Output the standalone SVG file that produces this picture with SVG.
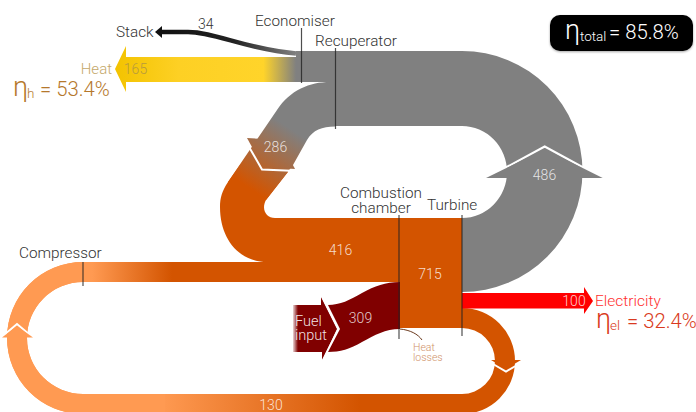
<svg xmlns="http://www.w3.org/2000/svg" width="696" height="412" viewBox="0 0 696 412">
<style>
text{font-family:"Roboto","Liberation Sans",sans-serif;font-weight:300}
.l{font-size:15.300px;fill:#333}
.v{font-size:14px;fill:#fff;fill-opacity:.8;text-anchor:middle}
.w{fill:none;stroke:#fff;stroke-width:2}
.t{stroke:#222;stroke-opacity:.8;stroke-width:1.2;fill:none}
.e{font-size:20.300px}
.b{font-size:27px}
.s{font-size:13.500px}
</style>
<defs>
<linearGradient id="gHeat" gradientUnits="userSpaceOnUse" x1="115" y1="0" x2="296" y2="0"><stop offset="0" stop-color="#f3c300"/><stop offset=".35" stop-color="#fdd024"/><stop offset=".82" stop-color="#ffd42a"/><stop offset="1" stop-color="#808080"/></linearGradient>
<linearGradient id="gStack" gradientUnits="userSpaceOnUse" x1="160" y1="0" x2="296" y2="0"><stop offset="0" stop-color="#111"/><stop offset=".55" stop-color="#222"/><stop offset="1" stop-color="#808080"/></linearGradient>
<linearGradient id="gRec" gradientUnits="userSpaceOnUse" x1="285" y1="125" x2="245" y2="185"><stop offset="0" stop-color="#808080"/><stop offset="1" stop-color="#d35400"/></linearGradient>
<linearGradient id="gComp" gradientUnits="userSpaceOnUse" x1="92" y1="0" x2="172" y2="0"><stop offset="0" stop-color="#ff9a52"/><stop offset="1" stop-color="#d35400"/></linearGradient>
<linearGradient id="gBot" gradientUnits="userSpaceOnUse" x1="160" y1="0" x2="360" y2="0"><stop offset="0" stop-color="#ff9a52"/><stop offset="1" stop-color="#d35400"/></linearGradient>
<linearGradient id="gFuel" gradientUnits="userSpaceOnUse" x1="292" y1="0" x2="298" y2="0"><stop offset="0" stop-color="#fff"/><stop offset="1" stop-color="#800000"/></linearGradient>
<filter id="sh" x="-5%" y="-10%" width="110%" height="130%"><feDropShadow dx="0" dy="1" stdDeviation="1" flood-opacity=".35"/></filter>
</defs>
<g id="connectors">
<path d="M462,308 A53,53 0 0 1 462,414 H83 A76,76 0 0 1 83,262 H400 V282 H83 A56,56 0 0 0 83,394 H462 A33,33 0 0 0 462,328 Z" fill="url(#gBot)"/>
<path d="M83,262 H400 V282 H83 Z" fill="url(#gComp)"/>
<path d="M83,262 A76,76 0 0 0 83,414 H165 V394 H83 A56,56 0 0 1 83,282 Z" fill="#ff9a52"/>
<polyline class="w" points="4,335 17,324 30,335"/>
<polygon points="2,337.500 17,326 33,337.500" fill="#ff9a52"/>
<polyline class="w" points="493,364 506,371.500 519,364"/>
<polygon points="491,360 521,360 506,369" fill="#d35400"/>
<path d="M296,51 H462 A120.500,120.500 0 0 1 462,292 V218 A45,46 0 0 0 462,126 H335 V82 H296 Z" fill="#808080"/>
<polyline class="w" points="503,169 544.700,146.500 586,169"/>
<polygon points="486,178 544.700,149 602.700,178" fill="#808080"/>
<path d="M220,207 C220,240 240,262 267,262 H400 V218 H275 C266,218 261,209 266,200 L288,172 L240,165 L228,182 C222,191 220,198 220,207 Z" fill="#d35400"/>
<path d="M335,82 H330 C310,82 290,90 277,110 L228,182 L266,200 L293,165 L307,140 C313,130 322,126.500 335,126.500 Z" fill="url(#gRec)"/>
<polyline class="w" points="245,140 262,169.500 297,171"/>
<polygon points="247,138 263,167 295,169 280,140" fill="url(#gRec)"/>
<path d="M296,57 H126 V46 L115,69 L126,92 V82 H296 Z" fill="url(#gHeat)"/>
<path d="M160,32 H188 C215,32 245,49 296,53.500" fill="none" stroke="url(#gStack)" stroke-width="4.500"/>
<polygon points="155,32 162,26 162,38" fill="#111"/>
<path d="M462,293 H584 V287 L593,301 L584,314 V308.500 H462 Z" fill="#ff0000"/>
<path d="M293,305 H321 V297 L337,329 L322,361 V352 H293 Z" fill="url(#gFuel)"/>
<polyline class="w" points="322,296 338.500,329 322,362"/>
<path d="M328,305 C340,305 350,300 362,293 C375,286 385,282 400,282 V329 C385,329 375,335 362,342 C350,349 340,352 328,352 L340,329 Z" fill="#800000"/>
<path d="M400,329 C410,330 418,334 422,340" fill="none" stroke="#6b3a1e" stroke-width="1"/>
</g>
<g id="stack"><text class="l" x="116" y="37">Stack</text><text class="l" x="198" y="29" style="font-size:14px">34</text></g>
<g id="heat"><text x="112" y="74" text-anchor="end" font-size="15" fill="#c4a86a">Heat</text><text x="135.500" y="74" class="v" style="fill:#b79a3d;fill-opacity:1">165</text>
<text y="96" class="e" fill="#b5782c"><tspan class="b" x="13">η</tspan><tspan class="s" x="27" dy="2">h</tspan><tspan x="40" dy="-2">= 53.4%</tspan></text></g>
<g id="economiser"><text class="l" x="255" y="26">Economiser</text><line class="t" x1="301.500" y1="28" x2="301.500" y2="83"/></g>
<g id="recuperator"><text class="l" x="315" y="46">Recuperator</text><line class="t" x1="335.500" y1="48" x2="335.500" y2="129"/><text class="v" x="275.500" y="152">286</text><text class="v" x="544.500" y="180">486</text></g>
<g id="combustion-chamber"><rect x="400" y="218" width="62" height="110" fill="#d35400"/><text class="l" x="381" y="198" text-anchor="middle">Combustion</text><text class="l" x="381" y="213" text-anchor="middle">chamber</text><line class="t" x1="399" y1="215" x2="399" y2="339"/><text class="v" x="430" y="279">715</text><text class="v" x="340.500" y="255">416</text><text class="v" x="360.500" y="323">309</text></g>
<g id="turbine"><text class="l" x="427" y="210">Turbine</text><line class="t" x1="462" y1="215" x2="462" y2="336"/></g>
<g id="compressor"><text class="l" x="19" y="258">Compressor</text><line class="t" x1="83" y1="262" x2="83" y2="286"/><text class="v" x="271" y="409.500">130</text></g>
<g id="fuel"><text x="295" y="326" font-size="14.500" fill="#fff" fill-opacity=".9">Fuel</text><text x="295" y="340" font-size="14.500" fill="#fff" fill-opacity=".9">input</text></g>
<g id="heat-losses"><text x="413" y="351" font-size="10.500" fill="#d0926a">Heat</text><text x="413" y="360.500" font-size="10.500" fill="#d0926a">losses</text></g>
<g id="electricity"><text class="v" x="574" y="306">100</text><text x="595" y="306" font-size="15.500" fill="#ff3030">Electricity</text>
<text y="328" class="e" fill="#d93a20"><tspan class="b" x="596">η</tspan><tspan class="s" x="610" dy="2">el</tspan><tspan x="627" dy="-2">= 32.4%</tspan></text></g>
<g id="total"><rect x="550" y="15" width="143" height="36" rx="10" fill="#000" filter="url(#sh)"/><text y="39" class="e" fill="#fff"><tspan class="b" x="565">η</tspan><tspan class="s" x="580" dy="2">total</tspan><tspan x="609" dy="-2">= 85.8%</tspan></text></g>
</svg>
